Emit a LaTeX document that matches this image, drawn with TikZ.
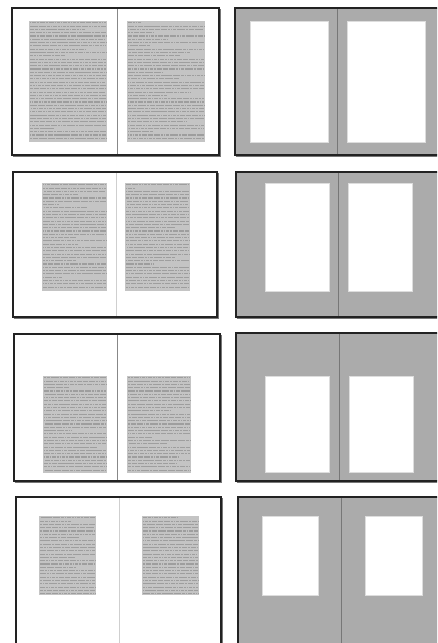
\documentclass[tikz,border=0pt]{standalone}
\definecolor{panelgray}{HTML}{ABABAB}
\definecolor{blockbg}{HTML}{C4C4C4}
\definecolor{textink}{HTML}{9E9E9E}
\definecolor{framec}{HTML}{222222}
\definecolor{shadowc}{HTML}{777777}
\definecolor{spinedark}{HTML}{888888}
\definecolor{spinelight}{HTML}{CFCFCF}
\definecolor{whiteedge}{HTML}{DDDDDD}
\tikzset{
  frame/.style={draw=framec, line width=1.1pt},
  shadowline/.style={draw=shadowc, line width=0.9pt},
  spinestyle/.style={line width=0.9pt},
  textline/.style={draw=textink, line width=1.1pt,
    dash pattern=on 3pt off 0.7pt on 1.6pt off 0.7pt on 4pt off 0.7pt on 2.2pt off 0.7pt on 1.2pt off 0.7pt on 3.4pt off 0.7pt on 2.6pt off 0.7pt on 5pt off 0.7pt on 1.9pt off 0.7pt},
  whitebox/.style={fill=white, draw=whiteedge, line width=0.6pt},
}
% fake (greeked) text block: x1 y1 x2 y2
\newcommand\fakeblock[4]{%
  \fill[blockbg] (#1,#2) rectangle (#3,#4);
  \pgfmathsetmacro\fbw{#3-#1-2}
  \pgfmathsetmacro\fbstart{#2+1.8}
  \pgfmathsetmacro\fbnext{#2+1.8+3.3}
  \pgfmathsetmacro\fbend{#4-1}
  \foreach \yy in {\fbstart,\fbnext,...,\fbend}{
    \pgfmathsetmacro\rr{rnd}
    \pgfmathsetmacro\ph{30*rnd}
    \pgfmathsetmacro\ll{\rr<0.14 ? (0.15+5*\rr)*\fbw : \fbw}
    \draw[textline, dash phase=\ph pt] (#1+1,\yy) -- ++(\ll,0);
  }
}
% spread frame: x1 y1 x2 y2
\newcommand\spreadframe[4]{%
  \draw[shadowline] (#1+0.5,#4+1) -- (#3+1,#4+1) -- (#3+1,#2+0.5);
  \draw[frame] (#1,#2) rectangle (#3,#4);
}
\begin{document}
\begin{tikzpicture}[x=1pt,y=-1pt]
\useasboundingbox (0,0) rectangle (437,643);
\clip (0,0) rectangle (437,643);
\pgfmathsetseed{7}
\fill[white] (0,0) rectangle (437,643);

% ---------- Row 1 ----------
\fakeblock{29}{21}{107}{142}
\fakeblock{127}{21}{205}{142}
\draw[spinestyle, draw=spinedark] (117,8) -- (117,155);
\spreadframe{12}{8}{219}{155}

\fill[panelgray] (235,8) rectangle (439,155);
\draw[whitebox] (250,21) rectangle (328,142);
\draw[whitebox] (347,21) rectangle (425,142);
\draw[spinestyle, draw=shadowc] (337,8) -- (337,155);
\spreadframe{235}{8}{439}{155}

% ---------- Row 2 ----------
\fakeblock{42}{183}{107}{291}
\fakeblock{125}{183}{190}{291}
\draw[spinestyle, draw=spinelight] (116,172) -- (116,317);
\spreadframe{13}{172}{217}{317}

\fill[panelgray] (236,172) rectangle (440,317);
\draw[whitebox] (265,183) rectangle (329,291);
\draw[whitebox] (348,183) rectangle (412,291);
\draw[spinestyle, draw=shadowc] (338,172) -- (338,317);
\spreadframe{236}{172}{440}{317}

% ---------- Row 3 ----------
\fakeblock{43}{376}{107}{473}
\fakeblock{127}{376}{191}{473}
\draw[spinestyle, draw=spinedark] (117,334) -- (117,481);
\spreadframe{14}{334}{220}{481}

\fill[panelgray] (236,333) rectangle (442,481);
\draw[whitebox] (265,376) rectangle (329,472);
\draw[whitebox] (349,376) rectangle (413,472);
\draw[spinestyle, draw=shadowc] (339,333) -- (339,481);
\spreadframe{236}{333}{442}{481}

% ---------- Row 4 ----------
\fakeblock{39}{516}{96}{595}
\fakeblock{142}{516}{199}{595}
\draw[spinestyle, draw=spinelight] (119,497) -- (119,645);
\spreadframe{16}{497}{221}{645}

\fill[panelgray] (238,497) rectangle (444,645);
\draw[whitebox] (262,516) rectangle (318,595);
\draw[whitebox] (365,516) rectangle (422,595);
\draw[spinestyle, draw=shadowc] (341,497) -- (341,645);
\spreadframe{238}{497}{444}{645}
\end{tikzpicture}
\end{document}
